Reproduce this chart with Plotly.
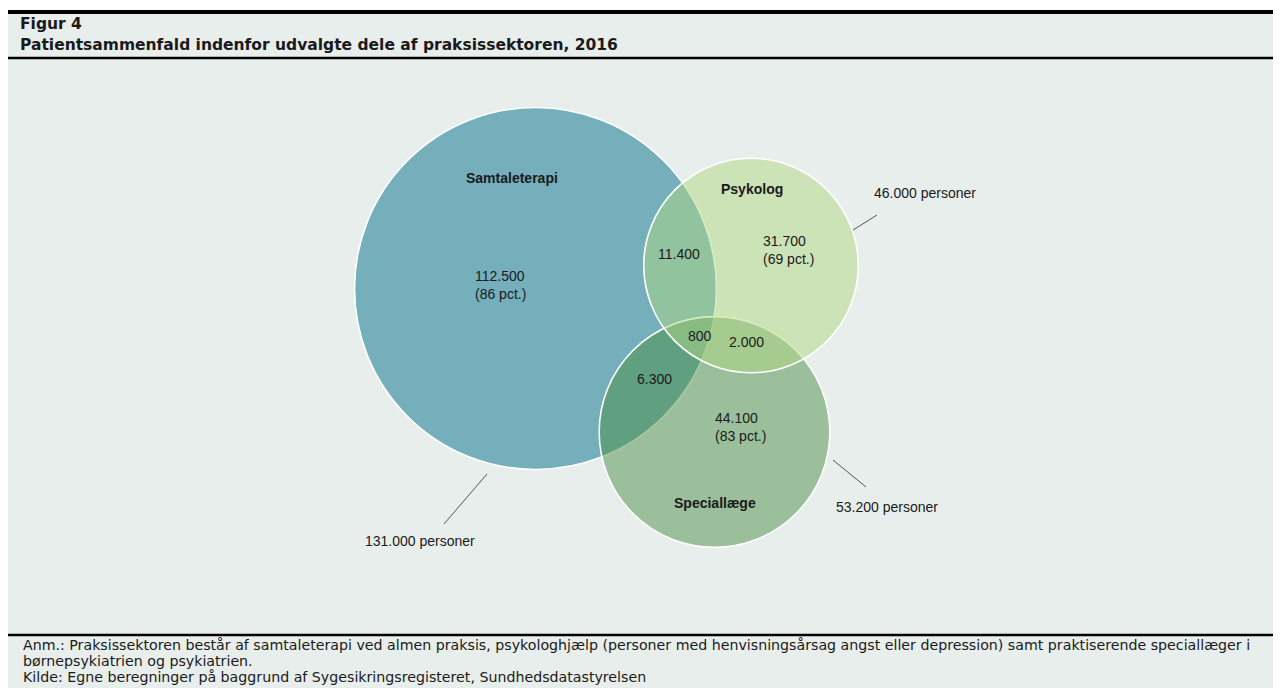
import math
import plotly.graph_objects as go

# data
groups = ["Samtaleterapi", "Psykolog", "Speciallæge"]
totals = [131000, 46000, 53200]
only_counts = [112500, 31700, 44100]
pair_names = ["Samtaleterapi+Psykolog", "Samtaleterapi+Speciallæge", "Psykolog+Speciallæge"]
pair_counts = [11400, 6300, 2000]
all_three = 800

title_top = "Figur 4"
title_main = "Patientsammenfald indenfor udvalgte dele af praksissektoren, 2016"
note_lines = [
    "Anm.: Praksissektoren består af samtaleterapi ved almen praksis, psykologhjælp (personer med henvisningsårsag angst eller depression) samt praktiserende speciallæger i",
    "børnepsykiatrien og psykiatrien.",
    "Kilde: Egne beregninger på baggrund af Sygesikringsregisteret, Sundhedsdatastyrelsen",
]

# layout (page pixel space; the page body has an 8px margin)
W, H = 1281, 688
OFF = 8
BG = "#E8EEEC"
FONT = "Liberation Sans, Arial, sans-serif"
WIDE = "DejaVu Sans, Verdana, sans-serif"
TXT = "#1a1a1a"
scale = 0.5  # radius = scale * sqrt(count)
centers = [(535.5, 288.5), (751, 265.5), (714.5, 432)]
fills = ["rgb(116,175,187)", "rgba(175,216,132,0.5)", "rgba(77,144,72,0.5)"]
draw_order = [0, 2, 1]
name_pos = [(512, 178), (752, 189), (715, 503)]
only_pos = [(473, 285), (761, 250), (713, 427)]
pair_pos = [(679, 254), (654.5, 379), (746, 342)]
all_pos = (700, 336)
total_lbl = [(363, 541, "left"), (872, 193, "left"), (834, 507, "left")]
leaders = [((487, 474), (444, 524)), ((853, 230), (877, 215)), ((833, 460), (866, 487))]


def dk(n):
    return f"{n:,}".replace(",", ".")


fig = go.Figure()
shapes = [
    dict(type="rect", xref="x", yref="y", x0=OFF, x1=W, y0=13, y1=H, fillcolor=BG, line_width=0, layer="below"),
    dict(type="line", xref="x", yref="y", x0=OFF, x1=W, y0=12, y1=12, line=dict(color="black", width=4)),
    dict(type="line", xref="x", yref="y", x0=OFF, x1=W, y0=58, y1=58, line=dict(color="black", width=2.5)),
    dict(type="line", xref="x", yref="y", x0=OFF, x1=W, y0=635, y1=635, line=dict(color="black", width=2.5)),
]
for i in draw_order:
    cx, cy = centers[i]
    r = scale * math.sqrt(totals[i])
    shapes.append(dict(type="circle", xref="x", yref="y", x0=cx - r, x1=cx + r, y0=cy - r, y1=cy + r,
                       fillcolor=fills[i], line=dict(color="white", width=1.6)))
for (a, b) in leaders:
    shapes.append(dict(type="line", xref="x", yref="y", x0=a[0], y0=a[1], x1=b[0], y1=b[1],
                       line=dict(color="#555555", width=1)))

ann = []


def add(x, y, text, size=14, bold=False, xanchor="center", align="center", family=FONT):
    ann.append(dict(x=x, y=y, xref="x", yref="y", text=f"<b>{text}</b>" if bold else text,
                    showarrow=False, xanchor=xanchor, yanchor="middle", align=align,
                    font=dict(family=family, size=size, color=TXT)))


for i, g in enumerate(groups):
    add(*name_pos[i], g, bold=True)
    pct = round(100 * only_counts[i] / totals[i])
    add(*only_pos[i], f"{dk(only_counts[i])}<br>({pct} pct.)", xanchor="left", align="left")
    x, y, anc = total_lbl[i]
    add(x, y, f"{dk(totals[i])} personer", xanchor=anc)
for i, v in enumerate(pair_counts):
    add(*pair_pos[i], dk(v))
add(*all_pos, dk(all_three))

add(18, 24, title_top, size=15.5, bold=True, xanchor="left", family=WIDE)
add(18, 45, title_main, size=15.5, bold=True, xanchor="left", family=WIDE)
for k, line in enumerate(note_lines):
    add(21, 645 + 16 * k, line, size=14.2, xanchor="left", align="left", family=WIDE)

fig.update_layout(
    width=W - OFF, height=H - OFF, margin=dict(l=0, r=0, t=0, b=0),
    paper_bgcolor="white", plot_bgcolor="white",
    xaxis=dict(range=[OFF, W], visible=False, fixedrange=True),
    yaxis=dict(range=[H, OFF], visible=False, fixedrange=True),
    shapes=shapes, annotations=ann, showlegend=False,
)
fig.write_html("out.html")
